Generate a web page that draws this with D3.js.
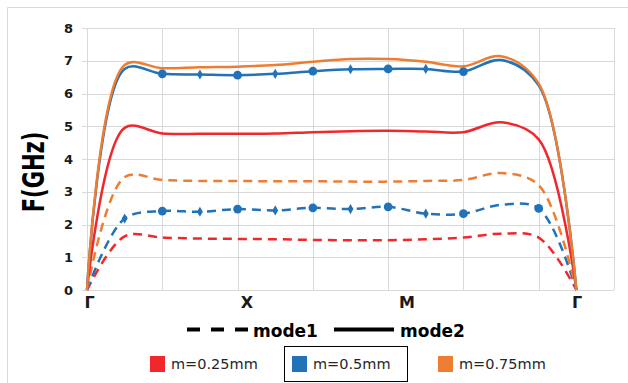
<!DOCTYPE html>
<html>
<head>
<meta charset="utf-8">
<script src="https://cdn.jsdelivr.net/npm/d3@7"></script>
<style>
	body { margin: 0; background: #fff; }
	svg { display: block; }
</style>
</head>
<body>
<svg id="chart" width="628" height="383"></svg>
<script>

// path points along the band diagram, 0 = Γ ... 13 = Γ
const POINTS = [0, 1, 2, 3, 4, 5, 6, 7, 8, 9, 10, 11, 12, 13];
const Y_TICKS = [0, 1, 2, 3, 4, 5, 6, 7, 8];
const X_LABELS = ['Γ', 'X', 'M', 'Γ'];
const X_LABEL_AT = [0.07, 4.25, 8.5, 13.02];

const SERIES_NAMES = ['m=0.25mm', 'm=0.5mm', 'm=0.75mm'];

// mode1 (dashed)
const MODE1_025 = [0, 1.64, 1.6, 1.57, 1.56, 1.55, 1.53, 1.52, 1.52, 1.55, 1.6, 1.72, 1.6, 0];
const MODE1_050 = [0, 2.18, 2.41, 2.39, 2.47, 2.43, 2.51, 2.47, 2.54, 2.33, 2.33, 2.6, 2.49, 0];
const MODE1_075 = [0, 3.45, 3.36, 3.33, 3.33, 3.32, 3.32, 3.31, 3.31, 3.33, 3.36, 3.57, 3.2, 0];

// mode2 (solid)
const MODE2_025 = [0, 4.95, 4.78, 4.77, 4.77, 4.78, 4.82, 4.85, 4.86, 4.84, 4.82, 5.12, 4.6, 0];
const MODE2_050 = [0, 6.75, 6.6, 6.58, 6.56, 6.6, 6.68, 6.74, 6.75, 6.75, 6.67, 7.02, 6.25, 0];
const MODE2_075 = [0, 6.87, 6.77, 6.8, 6.82, 6.87, 6.97, 7.05, 7.05, 6.97, 6.83, 7.14, 6.3, 0];

// markers on the m=0.5mm curves
const MODE1_050_MARKS = [1, 2, 3, 4, 5, 6, 7, 8, 9, 10, 12];
const MODE2_050_MARKS = [2, 3, 4, 5, 6, 7, 8, 9, 10];

const COLORS = ['#f0282d', '#2272b9', '#ed7d31'];

const svg = d3.select('#chart');

const x = d3.scaleLinear().domain([0, 14]).range([87, 614]);
const y = d3.scaleLinear().domain([0, 8]).range([290, 28]);

// chart outer frame (only top/left visible)
svg.append('path')
	.attr('d', 'M7.5,383V7.5H628')
	.attr('fill', 'none')
	.attr('stroke', '#d9d9d9');

// grid
const grid = svg.append('g').attr('stroke', '#d9d9d9').attr('stroke-width', 1);
grid.selectAll('.h').data(Y_TICKS).enter().append('line')
	.attr('x1', x(0) - 5).attr('x2', x(14))
	.attr('y1', d => Math.round(y(d)) + 0.5).attr('y2', d => Math.round(y(d)) + 0.5);
grid.selectAll('.v').data(d3.range(0, 15, 2)).enter().append('line')
	.attr('x1', d => Math.round(x(d)) + 0.5).attr('x2', d => Math.round(x(d)) + 0.5)
	.attr('y1', y(8)).attr('y2', y(0));

// y labels
svg.append('g').selectAll('text').data(Y_TICKS).enter().append('text')
	.attr('x', 73).attr('y', d => y(d) + 4.5)
	.attr('text-anchor', 'end')
	.style('font', 'bold 13px "DejaVu Sans"')
	.style('fill', '#1a1a1a')
	.text(d => d);

// x labels
svg.append('g').selectAll('text').data(X_LABELS).enter().append('text')
	.attr('x', (d, i) => x(X_LABEL_AT[i]))
	.attr('y', 308)
	.attr('text-anchor', 'middle')
	.style('font', 'bold 16px "DejaVu Sans"')
	.style('fill', '#1a1a1a')
	.text(d => d);

// y title
svg.append('text')
	.attr('transform', 'translate(44,172) rotate(-90) scale(1,1.4)')
	.attr('text-anchor', 'middle')
	.style('font', 'bold 21px "DejaVu Sans"')
	.style('fill', '#000')
	.text('F(GHz)');

const line = d3.line()
	.x((d, i) => x(POINTS[i]))
	.y(d => y(d))
	.curve(d3.curveCatmullRom.alpha(0.5));

const mode1 = [MODE1_025, MODE1_050, MODE1_075];
const mode2 = [MODE2_025, MODE2_050, MODE2_075];

mode1.forEach((s, k) => {
	svg.append('path')
		.attr('d', line(s))
		.attr('fill', 'none')
		.attr('stroke', COLORS[k])
		.attr('stroke-width', 2.5)
		.attr('stroke-dasharray', '9,6');
});
mode2.forEach((s, k) => {
	svg.append('path')
		.attr('d', line(s))
		.attr('fill', 'none')
		.attr('stroke', COLORS[k])
		.attr('stroke-width', 2.5);
});

function addMarks(series, marks) {
	svg.append('g').selectAll('path').data(marks).enter().append('path')
		.attr('transform', i => `translate(${x(POINTS[i])},${y(series[i])})`)
		.attr('d', i => d3.symbol().type(i % 2 ? d3.symbolDiamond : d3.symbolCircle).size(i % 2 ? 30 : 60)())
		.attr('fill', COLORS[1]);
}
addMarks(MODE1_050, MODE1_050_MARKS);
addMarks(MODE2_050, MODE2_050_MARKS);

// line-style legend
svg.append('line')
	.attr('x1', 187).attr('x2', 251).attr('y1', 329.5).attr('y2', 329.5)
	.attr('stroke', '#000').attr('stroke-width', 4).attr('stroke-dasharray', '13,11');
svg.append('text').attr('x', 253).attr('y', 337)
	.style('font', 'bold 17px "DejaVu Sans"').text('mode1');
svg.append('line')
	.attr('x1', 334).attr('x2', 394).attr('y1', 329.5).attr('y2', 329.5)
	.attr('stroke', '#000').attr('stroke-width', 4);
svg.append('text').attr('x', 400).attr('y', 337)
	.style('font', 'bold 17px "DejaVu Sans"').text('mode2');

// series legend
const LEG_X = [150, 292, 438];
svg.append('rect')
	.attr('x', 284.5).attr('y', 346.5).attr('width', 123).attr('height', 35)
	.attr('fill', 'none').attr('stroke', '#000');
const leg = svg.append('g').selectAll('g').data(SERIES_NAMES).enter().append('g')
	.attr('transform', (d, i) => `translate(${LEG_X[i]},0)`);
leg.append('rect')
	.attr('x', 0).attr('y', 356).attr('width', 15).attr('height', 16)
	.attr('fill', (d, i) => COLORS[i]);
leg.append('text')
	.attr('x', 21).attr('y', 368.5)
	.style('font', '14.5px "DejaVu Sans"')
	.style('fill', '#262626')
	.text(d => d);

</script>
</body>
</html>
